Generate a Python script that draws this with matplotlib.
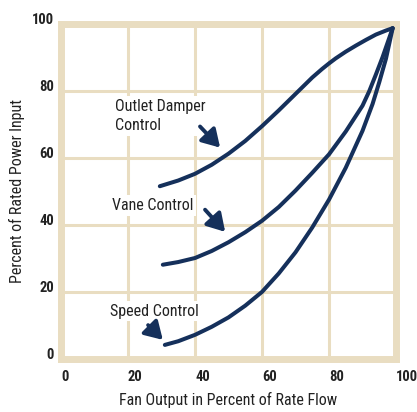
import matplotlib
matplotlib.use("Agg")
import matplotlib.pyplot as plt
from matplotlib import font_manager

# pick the narrowest family that is installed
installed = {f.name for f in font_manager.fontManager.ttflist}
condensed = [f.name for f in font_manager.fontManager.ttflist if f.stretch in ("condensed", "semi-condensed")]
family = "DejaVu Sans"
stretch = "normal"
for name in ["Liberation Sans Narrow", "Roboto Condensed", "DejaVu Sans Condensed", "Open Sans Condensed"]:
    if name in installed:
        family = name
        break
else:
    if "DejaVu Sans" in condensed:
        stretch = "condensed"
    elif "Roboto" in installed:
        family = "Roboto"
plt.rcParams["font.family"] = [family, "DejaVu Sans"]
plt.rcParams["font.stretch"] = stretch

# values (percent of rate flow -> percent of power)
outlet_x = [29.5, 35, 40, 45, 50, 55, 60, 65, 70, 75, 78, 80, 82, 85, 88, 91, 94, 97, 99]
outlet_y = [51.5, 53.2, 55.2, 57.9, 61.2, 65.0, 69.4, 74.1, 79.0, 83.9, 86.5, 88.1, 89.6, 91.6, 93.4, 95.1, 96.7, 97.9, 98.6]

vane_x = [30.4, 35, 40, 45, 50, 55, 60, 65, 70, 75, 80, 85, 90, 92, 94, 96, 97.5, 99]
vane_y = [28.1, 28.9, 30.1, 32.2, 34.8, 37.8, 41.2, 45.3, 50.2, 55.5, 61.0, 67.8, 75.5, 79.8, 84.8, 90.0, 94.3, 98.6]

speed_x = [31, 35, 40, 45, 50, 55, 60, 65, 70, 75, 80, 85, 90, 93, 95, 97, 99]
speed_y = [4.2, 5.3, 7.2, 9.6, 12.4, 15.9, 20.0, 25.5, 31.8, 39.2, 47.5, 57.0, 68.0, 76.0, 82.5, 89.5, 98.6]

ticks = [0, 20, 40, 60, 80, 100]
tick_labels = ["0", "20", "40", "60", "80", "100"]

navy = "#15305b"
beige = "#e9ddc1"
ink = "#222222"

fig = plt.figure(figsize=(4.17, 4.12), dpi=100)
ax = fig.add_axes([61 / 417, 53 / 412, 335 / 417, 335.5 / 412])

for xs, ys in [(outlet_x, outlet_y), (vane_x, vane_y), (speed_x, speed_y)]:
    ax.plot(xs, ys, color=navy, lw=2.9, solid_capstyle="round",
            solid_joinstyle="round", zorder=3)

ax.set_xlim(0, 100)
ax.set_ylim(0, 100)
ax.set_xticks(ticks, tick_labels)
ax.set_yticks(ticks, tick_labels)
ax.tick_params(length=0, labelsize=10.5, colors=ink)
ax.tick_params(axis="x", pad=8)
ax.tick_params(axis="y", pad=5)
for lbl in ax.get_xticklabels():
    lbl.set_ha("left")
    lbl.set_fontweight("bold")
for lbl in ax.get_yticklabels():
    lbl.set_va("baseline")
    lbl.set_fontweight("bold")
ax.grid(color=beige, lw=2.2, zorder=1)
ax.set_axisbelow(True)
for sp in ax.spines.values():
    sp.set_color(beige)
    sp.set_linewidth(5)

ax.set_xlabel("Fan Output in Percent of Rate Flow", fontsize=11.5, color=ink, labelpad=6)
ax.set_ylabel("Percent of Rated Power Input", fontsize=11.5, color=ink, labelpad=5)

box = dict(facecolor="white", edgecolor="none", pad=2)
ax.text(16.1, 77.6, "Outlet Damper\nControl", fontsize=11.5, va="top", ha="left",
        color=ink, bbox=box, zorder=2, linespacing=1.35)
ax.text(15.2, 45.7, "Vane Control", fontsize=11.5, va="center", ha="left",
        color=ink, bbox=box, zorder=2)
ax.text(14.6, 14.3, "Speed Control", fontsize=11.5, va="center", ha="left",
        color=ink, bbox=box, zorder=2)

arrow = dict(arrowstyle="-|>,head_length=0.75,head_width=0.45", lw=2.8, color=navy,
             shrinkA=0, shrinkB=0, mutation_scale=14)
ax.annotate("", xy=(47.5, 63.0), xytext=(41.5, 69.3), arrowprops=arrow)
ax.annotate("", xy=(49.0, 37.9), xytext=(43.0, 44.5), arrowprops=arrow)
ax.annotate("", xy=(30.4, 5.7), xytext=(26.0, 10.1), arrowprops=arrow)

fig.savefig("out.png", dpi=100, facecolor="white")
